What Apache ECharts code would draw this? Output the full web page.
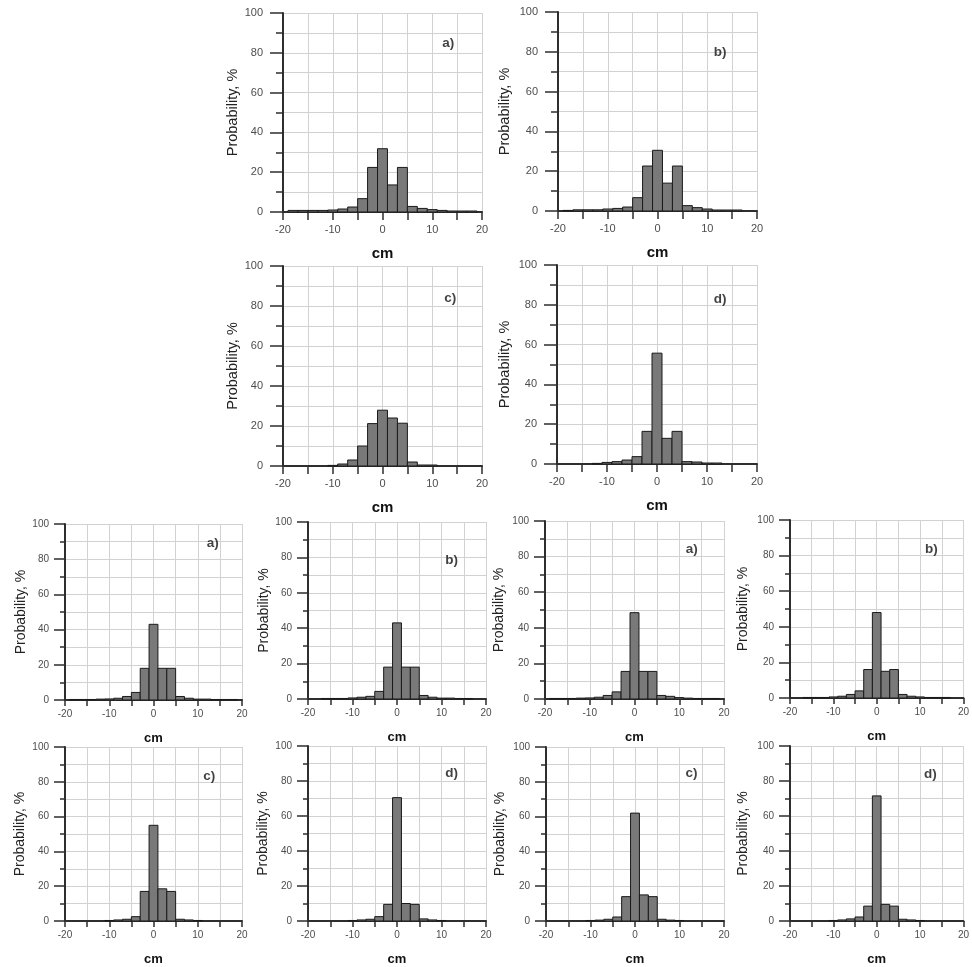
<!DOCTYPE html>
<html><head><meta charset="utf-8">
<script src="https://cdn.jsdelivr.net/npm/echarts@6/dist/echarts.min.js"></script>
<style>html,body{margin:0;padding:0;background:#fff}#c{width:972px;height:967px}</style>
</head><body><div id="c"></div>
<script>
// ---- data ----
const binCenters = [-18,-16,-14,-12,-10,-8,-6,-4,-2,0,2,4,6,8,10,12,14,16,18];
const xTickValues = [-20,-10,0,10,20];
const yTickValues = [0,20,40,60,80,100];
const xAxisName = 'cm';
const yAxisName = 'Probability, %';
const panelLabels = ['a)','b)','c)','d)','a)','b)','a)','b)','c)','d)','c)','d)'];

const topA = [0.8,0.8,0.8,0.8,1.0,1.5,2.5,6.7,22.4,31.8,13.6,22.4,2.8,1.8,1.2,0.8,0.5,0.5,0.5];
const topB = [0.3,0.6,0.6,0.6,1.0,1.3,2.0,6.7,22.6,30.5,14.0,22.6,2.7,1.7,1.0,0.5,0.5,0.5,0];
const topC = [0,0,0,0,0.3,1.0,3.0,10.0,21.2,27.9,24.0,21.4,2.0,0.5,0.5,0,0,0,0];
const topD = [0,0,0,0.3,0.8,1.2,2.0,3.7,16.4,55.7,12.9,16.4,1.2,1.0,0.5,0.5,0,0,0];
const botA1 = [0.3,0.3,0.3,0.5,0.6,1.0,2.0,4.3,18.0,43.0,18.0,18.0,2.0,1.0,0.5,0.5,0.3,0.3,0.3];
const botB1 = [0,0.3,0.3,0.3,0.6,1.0,1.5,4.3,18.0,43.0,18.0,18.0,2.0,1.0,0.5,0.5,0.3,0.3,0];
const botA2 = [0.3,0.3,0.3,0.5,0.6,1.0,2.0,4.0,15.5,48.5,15.5,15.5,2.0,1.5,0.8,0.5,0.3,0.3,0.3];
const botB2 = [0,0.3,0.3,0.3,0.6,1.0,2.0,4.0,16.0,48.0,15.0,16.0,2.0,1.0,0.6,0.3,0.3,0.3,0];
const botC1 = [0,0,0,0,0.3,0.6,1.0,2.5,17.0,55.0,18.5,17.0,1.0,0.6,0.3,0,0,0,0];
const botD1 = [0,0,0,0,0.3,0.6,1.0,2.5,9.5,70.5,10.0,9.5,1.2,0.6,0.3,0,0,0,0];
const botC2 = [0,0,0,0,0.3,0.5,1.0,2.3,14.0,62.0,15.0,14.0,1.0,0.5,0.3,0,0,0,0];
const botD2 = [0,0,0,0,0.3,0.6,1.2,2.3,8.5,71.5,9.5,8.5,1.0,0.6,0.3,0,0,0,0];

const panelValues = [topA, topB, topC, topD, botA1, botB1, botA2, botB2, botC1, botD1, botC2, botD2];
const labelPos = [[13.2,85],[12.6,80],[13.6,84],[12.6,83],[13.4,89],[12.3,78.5],[12.8,84],[12.6,83.5],[12.6,83],[12.3,84.6],[12.7,85],[12.4,84]];

// ---- layout (pixels) ----
// [left, top, width, height, yNameGap, big]
const layout = [
  [283,13,199,199,43,true],
  [558,12,199,199,46,true],
  [283,266,199,200,43,true],
  [557,265,200,199,45,true],
  [65,524,177,176,35,false],
  [308,522,178,177,31,false],
  [545,521,179,178,39,false],
  [790,520,178,178,40,false],
  [65,747,177,177,38,false],
  [308,746,178,177,38,false],
  [546,747,178,178,39,false],
  [790,746,178,178,40,false]
];

const FONT = '"Liberation Sans", Arial, sans-serif';
const AXIS_COLOR = '#2e2e2e';
const GRID_COLOR = '#d2d2d2';
const binHalf = (binCenters[1] - binCenters[0]) / 2;

const grid = [], xAxis = [], yAxis = [], series = [];
layout.forEach((L, i) => {
  const [left, top, width, height, yGap, big] = L;
  grid.push({left, top, width, height});
  const tickFont = big ? 11 : 10;
  xAxis.push({
    type: 'value', gridIndex: i,
    min: xTickValues[0], max: xTickValues[xTickValues.length-1],
    interval: xTickValues[1] - xTickValues[0],
    axisLine: {show: true, onZero: false, lineStyle: {color: AXIS_COLOR, width: 2}},
    axisTick: {show: true, length: big ? 8 : 6, lineStyle: {color: AXIS_COLOR, width: 1.5}},
    minorTick: {show: true, splitNumber: 2, length: big ? 8 : 6, lineStyle: {color: AXIS_COLOR, width: 1.5}},
    splitLine: {show: true, lineStyle: {color: GRID_COLOR, width: 1}},
    minorSplitLine: {show: true, lineStyle: {color: GRID_COLOR, width: 1}},
    axisLabel: {fontFamily: FONT, fontSize: tickFont, color: '#4d4d4d', margin: big ? 12 : 9},
    name: xAxisName, nameLocation: 'middle', nameGap: big ? 34 : 32,
    nameTextStyle: {fontFamily: FONT, fontWeight: 'bold', fontSize: big ? 15 : 13, color: '#111'}
  });
  yAxis.push({
    type: 'value', gridIndex: i,
    min: yTickValues[0], max: yTickValues[yTickValues.length-1],
    interval: yTickValues[1] - yTickValues[0],
    axisLine: {show: true, onZero: false, lineStyle: {color: AXIS_COLOR, width: 2}},
    axisTick: {show: true, length: big ? 13 : 11, lineStyle: {color: AXIS_COLOR, width: 1.5}},
    minorTick: {show: true, splitNumber: 2, length: big ? 7 : 5, lineStyle: {color: AXIS_COLOR, width: 1.5}},
    splitLine: {show: true, lineStyle: {color: GRID_COLOR, width: 1}},
    minorSplitLine: {show: true, lineStyle: {color: GRID_COLOR, width: 1}},
    axisLabel: {fontFamily: FONT, fontSize: tickFont, color: '#4d4d4d', margin: big ? 20 : 16},
    name: yAxisName, nameLocation: 'middle', nameGap: yGap,
    nameTextStyle: {fontFamily: FONT, fontSize: big ? 14.5 : 14, color: '#222'}
  });
  series.push({
    type: 'custom', xAxisIndex: i, yAxisIndex: i, z: 3,
    data: binCenters.map((c, j) => [c, panelValues[i][j]]),
    renderItem: (params, api) => {
      const x = api.value(0), v = api.value(1);
      if (!v) return null;
      const p0 = api.coord([x - binHalf, v]);
      const p1 = api.coord([x + binHalf, 0]);
      return {
        type: 'rect',
        shape: {x: p0[0], y: p0[1], width: p1[0] - p0[0], height: p1[1] - p0[1]},
        style: {fill: '#797979', stroke: '#1a1a1a', lineWidth: 1}
      };
    }
  });
  series.push({
    type: 'scatter', xAxisIndex: i, yAxisIndex: i, silent: true, z: 4,
    data: [labelPos[i]], symbolSize: 1, itemStyle: {color: 'transparent'},
    label: {show: true, position: 'inside', formatter: panelLabels[i],
      fontFamily: FONT, fontWeight: 'bold', fontSize: 13.5, color: '#111'}
  });
});

const chart = echarts.init(document.getElementById('c'), null, {renderer: 'canvas'});
chart.setOption({animation: false, backgroundColor: '#fff', grid, xAxis, yAxis, series});
</script></body></html>
